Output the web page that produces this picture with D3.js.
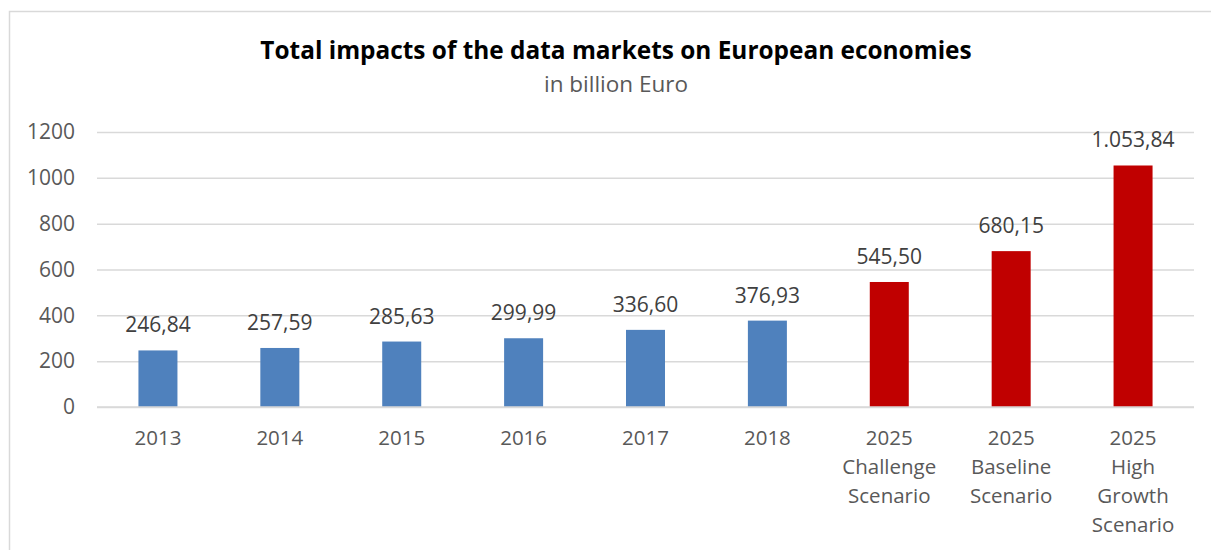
<!DOCTYPE html>
<html>
<head>
<meta charset="utf-8">
<script src="https://cdn.jsdelivr.net/npm/d3@7/dist/d3.min.js"></script>
<style>
  html, body { margin: 0; padding: 0; background: #fff; }
  svg { display: block; font-family: "Open Sans", "Noto Sans", sans-serif; }
</style>
</head>
<body>
<svg id="chart" width="1211" height="550"></svg>
<script>
// Category labels (multi-line labels split on "\n")
const categories = [
  "2013", "2014", "2015", "2016", "2017", "2018",
  "2025\nChallenge\nScenario",
  "2025\nBaseline\nScenario",
  "2025\nHigh\nGrowth\nScenario"
];
// Total impact in billion Euro
const values = [246.84, 257.59, 285.63, 299.99, 336.60, 376.93, 545.50, 680.15, 1053.84];
// Historic years vs. 2025 scenarios
const kinds = ["hist", "hist", "hist", "hist", "hist", "hist", "scen", "scen", "scen"];
const yTicks = [0, 200, 400, 600, 800, 1000, 1200];

const titleText = "Total impacts of the data markets on European economies";
const subtitleText = "in billion Euro";

const colors = { hist: "#4F81BD", scen: "#C00000" };

const svg = d3.select("#chart");
const W = 1211, H = 550;
const plot = { left: 97, right: 1194, top: 132, bottom: 407 };

// chart frame (light border, top and left visible)
svg.append("path")
  .attr("d", `M9.5,${H} L9.5,11.5 L${W},11.5`)
  .attr("fill", "none")
  .attr("stroke", "#d9d9d9")
  .attr("stroke-width", 1.5);

const x = d3.scaleBand()
  .domain(categories)
  .range([plot.left, plot.right])
  .paddingInner(0.68)
  .paddingOuter(0.34);

const y = d3.scaleLinear()
  .domain([0, 1200])
  .range([plot.bottom, plot.top]);

// Title and subtitle
svg.append("text")
  .attr("x", 616).attr("y", 59)
  .attr("text-anchor", "middle")
  .attr("font-size", 24.4)
  .attr("font-weight", "bold")
  .attr("fill", "#000")
  .text(titleText);
svg.append("text")
  .attr("x", 616).attr("y", 92)
  .attr("text-anchor", "middle")
  .attr("font-size", 22.5)
  .attr("fill", "#595959")
  .text(subtitleText);

// Y axis with gridlines
const yAxis = d3.axisLeft(y)
  .tickValues(yTicks)
  .tickSize(-(plot.right - plot.left))
  .tickPadding(22)
  .tickFormat(d3.format("d"));

const gy = svg.append("g")
  .attr("transform", `translate(${plot.left},0)`)
  .call(yAxis);
gy.select(".domain").remove();
gy.selectAll(".tick line")
  .attr("stroke", "#d9d9d9")
  .attr("stroke-width", 1.5);
gy.selectAll(".tick text")
  .attr("font-size", 21)
  .attr("fill", "#595959")
  .attr("font-family", "\"Open Sans\", sans-serif");

// Bars
svg.append("g")
  .selectAll("rect")
  .data(values)
  .join("rect")
  .attr("x", (d, i) => x(categories[i]))
  .attr("width", x.bandwidth())
  .attr("y", d => y(d))
  .attr("height", d => y(0) - y(d))
  .attr("fill", (d, i) => colors[kinds[i]]);

// Baseline redrawn over the bars
svg.append("line")
  .attr("x1", plot.left).attr("x2", plot.right)
  .attr("y1", y(0)).attr("y2", y(0))
  .attr("stroke", "#d9d9d9")
  .attr("stroke-width", 1.5);

// Value labels, German number format
const deLocale = d3.formatLocale({ decimal: ",", thousands: ".", grouping: [3], currency: ["", " €"] });
const fmt = deLocale.format(",.2f");
svg.append("g")
  .selectAll("text")
  .data(values)
  .join("text")
  .attr("x", (d, i) => x(categories[i]) + x.bandwidth() / 2)
  .attr("y", d => y(d) - 18)
  .attr("text-anchor", "middle")
  .attr("font-size", 21)
  .attr("fill", "#404040")
  .text(d => fmt(d));

// X axis labels
const gx = svg.append("g");
categories.forEach(c => {
  const lines = c.split("\n");
  const t = gx.append("text")
    .attr("x", x(c) + x.bandwidth() / 2)
    .attr("y", 445)
    .attr("text-anchor", "middle")
    .attr("font-size", 20.5)
    .attr("fill", "#595959");
  lines.forEach((ln, k) => {
    t.append("tspan")
      .attr("x", x(c) + x.bandwidth() / 2)
      .attr("dy", k === 0 ? 0 : 29)
      .text(ln);
  });
});
</script>
</body>
</html>
